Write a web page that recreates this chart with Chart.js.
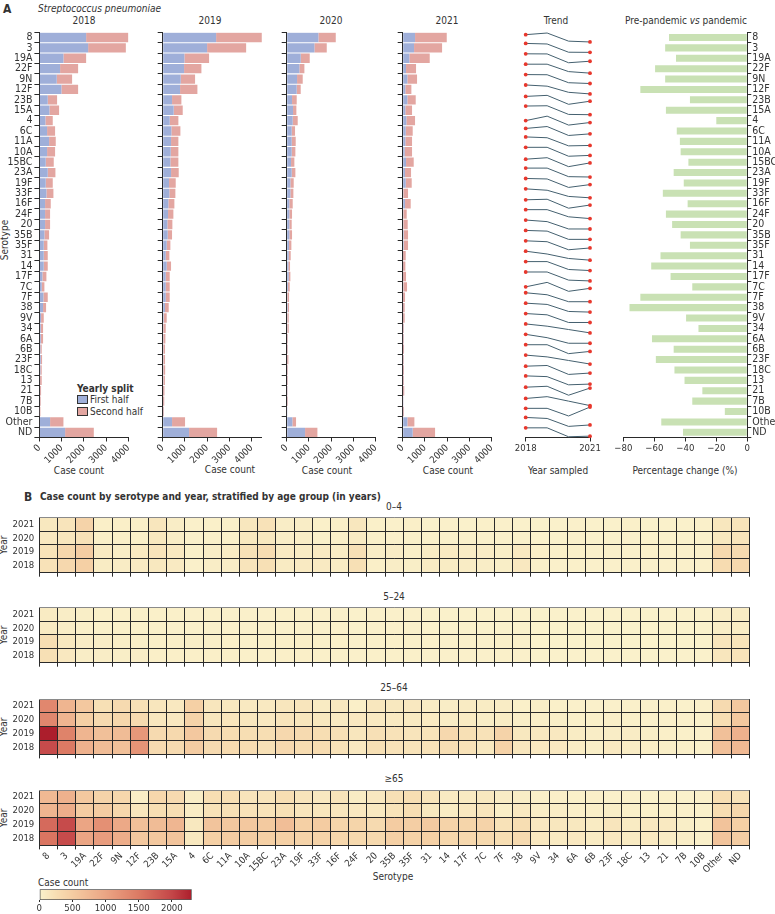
<!DOCTYPE html>
<html lang="en">
<head>
<meta charset="UTF-8">
<title>Streptococcus pneumoniae serotypes</title>
<script src="https://cdn.jsdelivr.net/npm/chart.js"></script>
<style>
  body { margin: 0; background: #fff; }
  #page { position: relative; width: 775px; height: 914px; overflow: hidden;
          font-family: 'Liberation Sans Narrow', 'DejaVu Sans Condensed', Roboto, sans-serif; color: #333; }
  #page canvas { position: absolute; }
  .t { position: absolute; white-space: nowrap; font-size: 10px; line-height: 1; }
  .c { transform: translate(-50%, -50%); }
  .rot { transform: translate(-50%, -50%) rotate(-90deg); }
  .b { font-weight: bold; }
  .box { position: absolute; width: 9px; height: 7px; border: 1px solid #333; }
</style>
</head>
<body>
<div id="page">
  <div class="t b" style="left:3px;top:3px;font-size:12px">A</div>
  <div class="t" style="left:38px;top:4px;font-style:italic">Streptococcus pneumoniae</div>
  <div class="t c" style="left:84px;top:21px">2018</div>
  <div class="t c" style="left:210px;top:21px">2019</div>
  <div class="t c" style="left:331px;top:21px">2020</div>
  <div class="t c" style="left:447px;top:21px">2021</div>
  <div class="t c" style="left:556px;top:21px">Trend</div>
  <div class="t c" style="left:686px;top:21px">Pre-pandemic <i>vs</i> pandemic</div>
  <div class="t rot" style="left:5px;top:240px">Serotype</div>
  <div class="t c" style="left:79px;top:471px">Case count</div>
  <div class="t c" style="left:230px;top:470px">Case count</div>
  <div class="t c" style="left:327px;top:471px">Case count</div>
  <div class="t c" style="left:448px;top:471px">Case count</div>
  <div class="t c" style="left:558px;top:471px">Year sampled</div>
  <div class="t c" style="left:685px;top:471px">Percentage change (%)</div>

  <div class="t b" style="left:77px;top:384px">Yearly split</div>
  <div class="box" style="left:77px;top:395px;background:#9fafd9"></div>
  <div class="t" style="left:90px;top:395px">First half</div>
  <div class="box" style="left:77px;top:407px;background:#e3a6a1"></div>
  <div class="t" style="left:90px;top:407px">Second half</div>

  <div class="t b" style="left:24px;top:491px;font-size:12px">B</div>
  <div class="t b" style="left:40px;top:492px">Case count by serotype and year, stratified by age group (in years)</div>
  <div class="t c" style="left:394px;top:507px">0–4</div>
  <div class="t c" style="left:394px;top:597px">5–24</div>
  <div class="t c" style="left:394px;top:688px">25–64</div>
  <div class="t c" style="left:394px;top:779px">≥65</div>
  <div class="t rot" style="left:4px;top:545px">Year</div>
  <div class="t rot" style="left:4px;top:635px">Year</div>
  <div class="t rot" style="left:4px;top:727px">Year</div>
  <div class="t rot" style="left:4px;top:818px">Year</div>
  <div class="t c" style="left:393px;top:877px">Serotype</div>
  <div class="t" style="left:38px;top:878px">Case count</div>
</div>
<script>
const serotypes = ['8','3','19A','22F','9N','12F','23B','15A',
  '4','6C','11A','10A','15BC','23A','19F','33F',
  '16F','24F','20','35B','35F','31','14','17F',
  '7C','7F','38','9V','34','6A','6B','23F',
  '18C','13','21','7B','10B','Other','ND'];
const years = [2018, 2019, 2020, 2021];

// case counts, first and second half of each year
const first2018 = [2100,2190,1080,930,780,990,375,450, 270,345,435,345,285,375,285,315,
  255,255,255,225,195,195,195,135, 105,180,165,75,60,60,45,60, 45,30,30,30,15,480,1155];
const second2018 = [1900,1695,1020,810,690,750,420,435, 330,360,300,360,360,345,315,315,
  255,225,225,210,165,180,180,180, 120,195,135,120,105,105,60,60, 60,75,45,30,30,600,1290];
const first2019 = [2400,1995,975,960,810,780,420,495, 315,390,375,360,345,375,285,300,
  255,240,210,225,180,135,180,135, 135,135,105,45,30,30,30,30, 30,30,15,15,10,420,1185];
const second2019 = [2055,1755,1110,780,645,780,420,405, 390,405,330,345,360,345,300,270,
  270,240,225,195,165,165,195,180, 180,180,165,135,105,90,75,75, 80,70,65,55,35,585,1260];
const first2020 = [1425,1245,630,570,465,450,240,285, 270,225,225,225,195,225,165,165,
  120,120,120,120,105,90,75,90, 60,30,45,30,30,15,15,15, 15,15,10,15,5,255,825];
const second2020 = [780,555,405,225,255,180,210,150, 225,150,180,165,150,165,150,135,
  150,120,105,120,105,90,75,75, 75,75,60,60,60,30,30,60, 30,30,20,30,10,165,555];
const first2021 = [555,510,300,150,210,120,210,120, 165,135,120,90,150,105,135,30,
  105,30,30,45,45,15,15,15, 30,15,10,15,5,5,10,5, 5,5,10,5,5,210,450];
const second2021 = [1425,1260,915,450,435,270,375,300, 390,315,300,330,345,270,270,210,
  255,150,195,195,195,120,105,135, 165,90,80,75,40,40,50,40, 50,45,60,15,45,315,1005];

// percentage change, pre-pandemic vs pandemic
const pctChange = [-50.5,-53,-46,-59.5,-53,-69,-37,-52.5, -20,-45.5,-43.5,-43,-38,-47.5,-41,-54.5,
  -38.5,-52.5,-48.5,-43,-37,-56,-62,-49.5, -35.5,-69,-76,-39.5,-31.5,-61.5,-47.5,-59,
  -47,-40.5,-29,-35.5,-14.5,-55.5,-41.5];

// heatmap counts per age group and year
const age0to4_2018 = [200,330,450,80,70,100,130,100, 20,60,60,170,230,90,100,100, 80,230,40,60,50,90,80,70, 60,50,120,30,20,30,20,20, 20,20,20,20,20,280,340];
const age0to4_2019 = [190,350,480,100,60,110,170,110, 30,60,70,210,270,100,80,100, 70,220,60,70,40,70,100,70, 70,50,110,40,30,30,20,20, 20,20,20,20,20,320,300];
const age0to4_2020 = [120,150,210,40,40,40,130,60, 20,30,30,130,130,60,60,30, 40,90,30,20,30,20,20,20, 20,20,20,10,10,20,10,10, 20,10,10,10,10,130,170];
const age0to4_2021 = [130,170,400,40,40,40,150,60, 20,30,30,140,200,60,60,30, 40,140,30,20,40,10,20,10, 30,20,10,10,10,20,10,10, 30,10,10,10,20,140,180];

const age5to24_2018 = [230,120,60,60,50,60,40,40, 40,40,40,30,30,40,40,30, 30,20,30,30,30,20,20,20, 20,30,20,10,10,10,10,10, 10,10,10,10,10,150,190];
const age5to24_2019 = [250,130,70,60,50,50,40,40, 50,40,40,30,30,40,40,30, 30,20,30,30,30,20,20,20, 20,30,20,10,10,10,10,10, 10,10,10,10,10,160,180];
const age5to24_2020 = [100,60,40,30,30,30,30,20, 20,20,20,20,20,20,20,20, 20,10,20,20,20,10,10,10, 10,10,10,10,10,10,10,10, 10,10,10,10,10,60,80];
const age5to24_2021 = [90,60,50,30,30,30,30,30, 20,30,20,20,20,30,30,20, 20,10,20,20,20,10,10,10, 10,10,10,10,10,10,10,10, 10,10,10,10,10,60,80];

const age25to64_2018 = [1950,1500,850,700,650,1200,300,300, 500,300,290,280,220,330,280,280, 200,120,230,200,190,200,250,200, 130,420,150,120,120,80,50,110, 70,60,50,40,20,650,750];
const age25to64_2019 = [2300,1400,800,650,700,1150,300,320, 550,300,270,250,250,330,300,250, 220,150,220,200,170,180,330,230, 200,400,130,130,120,80,60,60, 70,50,40,30,20,650,850];
const age25to64_2020 = [1350,800,450,300,350,300,140,120, 400,150,160,150,120,170,150,130, 100,120,110,110,100,100,70,90, 60,80,50,50,50,30,30,40, 30,20,20,20,10,250,550];
const age25to64_2021 = [1350,800,550,230,300,220,150,120, 450,150,130,110,110,150,160,90, 130,40,140,130,120,70,60,90, 80,70,30,50,30,20,20,20, 20,20,30,10,20,300,550];

const age65_2018 = [1550,1950,1000,1100,900,550,550,600, 130,450,500,480,450,450,400,400, 350,320,320,450,420,450,350,330, 320,250,300,120,100,120,90,120, 90,110,70,60,20,600,480];
const age65_2019 = [1650,1950,1000,1250,950,650,700,780, 130,600,550,550,530,680,450,500, 380,380,300,500,470,520,400,380, 400,200,250,120,140,130,90,160, 90,120,110,50,30,620,450];
const age65_2020 = [800,900,500,500,350,150,250,250, 80,200,220,200,190,230,160,150, 150,120,110,190,250,130,80,120, 160,40,110,60,60,40,40,50, 30,30,20,20,10,260,350];
const age65_2021 = [750,850,550,400,350,60,350,300, 60,250,250,170,170,250,170,120, 180,80,120,230,250,180,100,100, 130,70,60,40,40,30,40,20, 20,10,30,10,20,250,200];

const countTicks = [0, 1000, 2000, 3000, 4000];
const colorbarTicks = [0, 500, 1000, 1500, 2000];

const FONT = "'Liberation Sans Narrow', 'DejaVu Sans Condensed', Roboto, sans-serif";
const BLUE = '#9fafd9', PINK = '#e3a6a1', GREEN = '#c9e1b4', SLATE = '#44606f', RED = '#e8372c';
const AXIS = '#2a2a2a';

Chart.defaults.font.family = FONT;
Chart.defaults.font.size = 9.5;
Chart.defaults.color = '#333';
Chart.defaults.animation = false;
Chart.defaults.plugins.legend.display = false;
Chart.defaults.plugins.tooltip.enabled = false;

const TOP = 32.3, ROWS_H = 405.2, CANVAS_TOP = 27, PAD_T = TOP - CANVAS_TOP;
const PX_PER_CASE = 89 / 4000;

function makeCanvas(left, top, w, h) {
  const c = document.createElement('canvas');
  c.width = w; c.height = h;
  c.style.left = left + 'px'; c.style.top = top + 'px';
  c.style.width = w + 'px'; c.style.height = h + 'px';
  document.getElementById('page').appendChild(c);
  return c;
}

function fixSize(size) {
  return scale => {
    if (scale.isHorizontal()) scale.height = size; else scale.width = size;
    scale.paddingLeft = scale.paddingRight = scale.paddingTop = scale.paddingBottom = 0;
  };
}

const setTicks = list => scale => { scale.ticks = list.map(v => ({ value: v })); };
const minus = v => (v < 0 ? '\u2212' + Math.abs(v) : String(v));

function countPanel(x0, xmax, first, second, showLabels) {
  const yW = showLabels ? 40 : 7, axisH = 32;
  const plotW = xmax * PX_PER_CASE;
  const left = Math.floor(x0 - yW - 2);
  const padL = x0 - yW - left;
  const w = Math.ceil(padL + yW + plotW + 4);
  const h = Math.ceil(PAD_T + ROWS_H + axisH + 2);
  new Chart(makeCanvas(left, CANVAS_TOP, w, h), {
    type: 'bar',
    data: {
      labels: serotypes,
      datasets: [
        { label: 'First half', data: first, backgroundColor: BLUE },
        { label: 'Second half', data: second, backgroundColor: PINK }
      ]
    },
    options: {
      responsive: false,
      indexAxis: 'y',
      layout: { padding: { left: padL, top: PAD_T, right: w - padL - yW - plotW, bottom: h - PAD_T - ROWS_H - axisH } },
      datasets: { bar: { barPercentage: 0.9, categoryPercentage: 1 } },
      scales: {
        x: {
          stacked: true, min: 0, max: xmax,
          afterBuildTicks: setTicks(countTicks),
          grid: { drawOnChartArea: false, tickLength: 4, color: AXIS },
          border: { color: AXIS },
          ticks: { minRotation: 45, maxRotation: 45, padding: 1, callback: v => String(v) },
          afterFit: fixSize(axisH)
        },
        y: {
          stacked: true,
          grid: { drawOnChartArea: false, tickLength: 5, color: AXIS },
          border: { color: AXIS },
          ticks: { display: showLabels, autoSkip: false, padding: 2, font: { size: 10.5 } },
          afterFit: fixSize(yW)
        }
      }
    }
  });
}

countPanel(39.4, 4000, first2018, second2018, true);
countPanel(162.7, 4460, first2019, second2019, false);
countPanel(286.7, 4000, first2020, second2020, false);
countPanel(402.7, 4000, first2021, second2021, false);

// trend: yearly totals, scaled within each serotype row
const totals = [
  first2018.map((v, i) => v + second2018[i]),
  first2019.map((v, i) => v + second2019[i]),
  first2020.map((v, i) => v + second2020[i]),
  first2021.map((v, i) => v + second2021[i])
];
(function trendPanel() {
  const x0 = 525.7, plotW = 64.3, axisH = 32;
  const left = Math.floor(x0 - 20), padL = x0 - left;
  const w = Math.ceil(padL + plotW + 20);
  const h = Math.ceil(PAD_T + ROWS_H + axisH + 2);
  const datasets = serotypes.map((s, i) => {
    const tot = totals.map(t => t[i]);
    const mn = Math.min(...tot), mx = Math.max(...tot);
    return {
      label: s,
      data: years.map((yr, k) => ({ x: yr, y: i + 0.43 - 0.86 * (mx === mn ? 0.5 : (tot[k] - mn) / (mx - mn)) })),
      showLine: true, borderColor: SLATE, borderWidth: 1,
      pointRadius: [1.9, 0, 0, 1.9], pointBackgroundColor: RED, pointBorderWidth: 0,
      clip: false
    };
  });
  new Chart(makeCanvas(left, CANVAS_TOP, w, h), {
    type: 'scatter',
    data: { datasets },
    options: {
      responsive: false,
      layout: { padding: { left: padL, top: PAD_T, right: w - padL - plotW, bottom: h - PAD_T - ROWS_H - axisH } },
      scales: {
        x: {
          type: 'linear', min: 2018, max: 2021,
          afterBuildTicks: setTicks([2018, 2021]),
          grid: { drawOnChartArea: false, tickLength: 4, color: AXIS },
          border: { color: AXIS },
          ticks: { maxRotation: 0, padding: 1, callback: v => String(v) },
          afterFit: fixSize(axisH)
        },
        y: { display: false, reverse: true, min: -0.5, max: serotypes.length - 0.5 }
      }
    }
  });
})();

// percentage change
(function pctPanel() {
  const x0 = 623.3, plotW = 124, axisH = 32;
  const left = 609, padL = x0 - left, w = 775 - left;
  const yW = w - padL - plotW;
  const h = Math.ceil(PAD_T + ROWS_H + axisH + 2);
  new Chart(makeCanvas(left, CANVAS_TOP, w, h), {
    type: 'bar',
    data: { labels: serotypes, datasets: [{ data: pctChange, backgroundColor: GREEN }] },
    options: {
      responsive: false,
      indexAxis: 'y',
      layout: { padding: { left: padL, top: PAD_T, right: 0, bottom: h - PAD_T - ROWS_H - axisH } },
      datasets: { bar: { barPercentage: 0.68, categoryPercentage: 1 } },
      scales: {
        x: {
          min: -80, max: 0,
          ticks: { stepSize: 20, maxRotation: 0, padding: 1, callback: minus },
          grid: { drawOnChartArea: false, tickLength: 4, color: AXIS },
          border: { color: AXIS },
          afterFit: fixSize(axisH)
        },
        y: {
          position: 'right',
          grid: { drawOnChartArea: false, tickLength: 4, color: AXIS },
          border: { color: AXIS },
          ticks: { autoSkip: false, padding: 1, font: { size: 10.5 } },
          afterFit: fixSize(yW)
        }
      }
    }
  });
})();

// heatmap colour scale
const HEAT_STOPS = [
  [0, [250, 242, 204]], [250, [247, 222, 179]], [500, [244, 204, 162]],
  [1000, [235, 165, 132]], [1500, [220, 122, 100]], [2000, [196, 70, 72]], [2300, [172, 30, 44]]
];
const CB_MAX = 2300;
const rgb = c => 'rgb(' + c.map(Math.round).join(',') + ')';
function heatColor(v) {
  for (let i = 1; i < HEAT_STOPS.length; i++) {
    const [v0, c0] = HEAT_STOPS[i - 1], [v1, c1] = HEAT_STOPS[i];
    if (v <= v1) {
      const t = Math.max(0, (v - v0) / (v1 - v0));
      return rgb(c0.map((c, j) => c + (c1[j] - c) * t));
    }
  }
  return rgb(HEAT_STOPS[HEAT_STOPS.length - 1][1]);
}

function heatmap(top, rows, showX) {
  const canvasTop = Math.floor(top - 3), padT = top - canvasTop;
  const plotH = 55.4, axisH = showX ? 36 : 6;
  const left = 39.3, right = 749.3;
  const h = Math.ceil(padT + plotH + axisH + 1);
  new Chart(makeCanvas(0, canvasTop, 775, h), {
    type: 'bar',
    data: {
      labels: serotypes,
      datasets: rows.map((vals, k) => ({
        label: String(years[k]),
        data: serotypes.map(() => 1),
        backgroundColor: vals.map(heatColor),
        borderWidth: 0, barPercentage: 1, categoryPercentage: 1, yAxisID: 'y'
      }))
    },
    options: {
      responsive: false,
      layout: { padding: { left: 0, top: padT, right: 775 - right, bottom: h - padT - plotH - axisH } },
      scales: {
        x: {
          stacked: true,
          grid: { offset: true, color: AXIS, lineWidth: 1, tickLength: 4, z: 1 },
          border: { color: AXIS, z: 1 },
          ticks: { display: showX, autoSkip: false, minRotation: 45, maxRotation: 45, padding: 1 },
          afterFit: fixSize(axisH)
        },
        y: {
          stacked: true, min: 0, max: 4,
          ticks: { stepSize: 1, display: false },
          grid: { color: ctx => (ctx.tick && ctx.tick.value === 4 ? '#8a8a8a' : AXIS), drawTicks: false, z: 1 },
          border: { display: false },
          afterFit: fixSize(0)
        },
        yl: {
          type: 'linear', position: 'left', min: 0, max: 4,
          afterBuildTicks: setTicks([0.5, 1.5, 2.5, 3.5]),
          ticks: { padding: 5, font: { size: 9.5 }, callback: v => String(years[v - 0.5]) },
          grid: { display: false, drawTicks: false },
          border: { display: false },
          afterFit: fixSize(left)
        }
      }
    }
  });
}

heatmap(517.3, [age0to4_2018, age0to4_2019, age0to4_2020, age0to4_2021], false);
heatmap(607.3, [age5to24_2018, age5to24_2019, age5to24_2020, age5to24_2021], false);
heatmap(699, [age25to64_2018, age25to64_2019, age25to64_2020, age25to64_2021], false);
heatmap(790, [age65_2018, age65_2019, age65_2020, age65_2021], true);

// colour bar
(function colorbar() {
  const left = 25, top = 884, x0 = 39.3, plotW = 152.4, barTop = 889.3, barH = 10.7;
  const w = 185, h = 914 - top, padL = x0 - left, padT = barTop - top;
  new Chart(makeCanvas(left, top, w, h), {
    type: 'bar',
    data: {
      labels: ['Case count'],
      datasets: [{
        data: [[0, CB_MAX]],
        backgroundColor: ctx => {
          const a = ctx.chart.chartArea;
          if (!a) return null;
          const g = ctx.chart.ctx.createLinearGradient(a.left, 0, a.right, 0);
          HEAT_STOPS.forEach(([v, c]) => g.addColorStop(v / CB_MAX, rgb(c)));
          return g;
        },
        borderColor: '#555', borderWidth: 1, borderSkipped: false,
        barPercentage: 1, categoryPercentage: 1
      }]
    },
    options: {
      responsive: false,
      indexAxis: 'y',
      layout: { padding: { left: padL, top: padT, right: w - padL - plotW, bottom: 0 } },
      scales: {
        x: {
          type: 'linear', min: 0, max: CB_MAX,
          afterBuildTicks: setTicks(colorbarTicks),
          grid: { drawOnChartArea: false, tickLength: 2, color: AXIS },
          border: { display: false },
          ticks: { maxRotation: 0, padding: 1, callback: v => String(v) },
          afterFit: fixSize(h - padT - barH)
        },
        y: { display: false }
      }
    }
  });
})();
</script>
</body>
</html>
